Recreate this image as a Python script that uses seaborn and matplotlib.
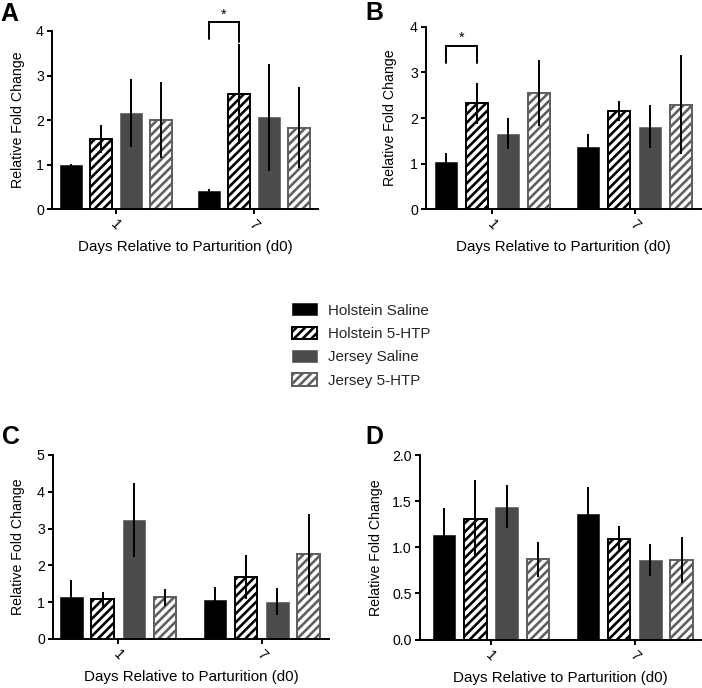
import numpy as np
import pandas as pd
import matplotlib
matplotlib.use("Agg")
import matplotlib.pyplot as plt
import seaborn as sns

# Data (mean and error per day, per group)
days = ["1", "7"]
groups = ["Holstein Saline", "Holstein 5-HTP", "Jersey Saline", "Jersey 5-HTP"]

a_mean = [[0.99, 1.58, 2.16, 2.01], [0.40, 2.59, 2.06, 1.83]]
a_err = [[0.03, 0.31, 0.76, 0.85], [0.05, 1.12, 1.21, 0.91]]
b_mean = [[1.04, 2.32, 1.66, 2.55], [1.36, 2.15, 1.81, 2.29]]
b_err = [[0.19, 0.45, 0.33, 0.72], [0.28, 0.22, 0.47, 1.08]]
c_mean = [[1.15, 1.08, 3.24, 1.13], [1.05, 1.68, 1.01, 2.30]]
c_err = [[0.45, 0.20, 1.00, 0.23], [0.37, 0.60, 0.37, 1.10]]
d_mean = [[1.13, 1.31, 1.44, 0.87], [1.36, 1.09, 0.86, 0.86]]
d_err = [[0.30, 0.42, 0.23, 0.19], [0.29, 0.14, 0.17, 0.25]]

sns.set_theme(style="ticks")
plt.rcParams['font.family'] = ['Liberation Sans', 'DejaVu Sans']
plt.rcParams['hatch.linewidth'] = 2.4

DPI = 78
W, H = 702, 688
fig = plt.figure(figsize=(W / DPI, H / DPI), dpi=DPI)

DARK = "#4b4b4b"
GREY_EDGE = "#5e5e5e"
styles = {
    "Holstein Saline": dict(face="black", edge="black", hatch=None),
    "Holstein 5-HTP": dict(face="white", edge="black", hatch="///"),
    "Jersey Saline": dict(face=DARK, edge=DARK, hatch=None),
    "Jersey 5-HTP": dict(face="white", edge=GREY_EDGE, hatch="///"),
}


def add_axes(left, top, width, height):
    return fig.add_axes([left / W, 1 - (top + height) / H, width / W, height / H])


def draw_panel(ax, means, errs, ylim, yticks, xlim, ylab_x):
    rows = []
    for i, d in enumerate(days):
        for j, g in enumerate(groups):
            rows.append({"day": d, "group": g, "value": means[i][j], "err": errs[i][j]})
    df = pd.DataFrame(rows)
    sns.barplot(data=df, x="day", y="value", hue="group", order=days, hue_order=groups,
                palette=[styles[g]["face"] for g in groups], saturation=1,
                errorbar=None, width=0.87, gap=0.28, legend=False, ax=ax)
    bars = list(ax.containers)
    for g, cont in zip(groups, bars):
        st = styles[g]
        for p in cont.patches:
            p.set_facecolor(st["face"])
            p.set_edgecolor(st["edge"])
            p.set_linewidth(1.8 if st["hatch"] else 0.5)
            if st["hatch"]:
                p.set_hatch(st["hatch"])
    # error bars at the bar centres
    for j, cont in enumerate(bars):
        for i, p in enumerate(cont.patches):
            xc = p.get_x() + p.get_width() / 2
            ax.errorbar(xc, means[i][j], yerr=errs[i][j], fmt="none",
                        ecolor="black", elinewidth=1.8, capsize=0, zorder=5)
    ax.set_ylim(*ylim)
    ax.set_yticks(yticks)
    ax.set_xlim(*xlim)
    sns.despine(ax=ax)
    for s in ["left", "bottom"]:
        ax.spines[s].set_linewidth(1.8)
        ax.spines[s].set_color("black")
    ax.tick_params(axis="both", direction="out", length=4.6, width=1.8,
                   labelsize=13, colors="black", pad=3)
    ax.tick_params(axis="x", labelrotation=-45)
    ax.set_xlabel("Days Relative to Parturition (d0)", fontsize=14, color="black")
    ax.set_ylabel("Relative Fold Change", fontsize=13, color="black")
    ax.xaxis.set_label_coords(0.5, -0.17)
    ax.yaxis.set_label_coords(ylab_x, 0.5)
    ax.grid(False)
    return bars


def bracket(ax, bars, j1, j2, day_i, y_legs, y_top, y_star):
    p1 = bars[j1].patches[day_i]
    p2 = bars[j2].patches[day_i]
    x1 = p1.get_x() + p1.get_width() / 2
    x2 = p2.get_x() + p2.get_width() / 2
    ax.plot([x1, x1, x2, x2], [y_legs[0], y_top, y_top, y_legs[1]],
            color="black", lw=1.8, clip_on=False, solid_joinstyle="miter")
    ax.text((x1 + x2) / 2, y_star, "*", ha="center", va="baseline",
            fontsize=13, color="black", clip_on=False)


ax_a = add_axes(52, 31, 266, 178.3)
bars_a = draw_panel(ax_a, a_mean, a_err, (0, 4), [0, 1, 2, 3, 4], (-0.464, 1.464), -0.10)
bracket(ax_a, bars_a, 0, 1, 1, (3.83, 3.76), 4.21, 4.28)

ax_b = add_axes(426, 26.7, 275, 182.6)
bars_b = draw_panel(ax_b, b_mean, b_err, (0, 4), [0, 1, 2, 3, 4], (-0.465, 1.465), -0.105)
bracket(ax_b, bars_b, 0, 1, 0, (3.2, 3.2), 3.58, 3.66)

ax_c = add_axes(53, 455, 276, 184)
draw_panel(ax_c, c_mean, c_err, (0, 5), [0, 1, 2, 3, 4, 5], (-0.455, 1.469), -0.10)

ax_d = add_axes(420, 455, 281, 184.5)
draw_panel(ax_d, d_mean, d_err, (0, 2), [0, 0.5, 1.0, 1.5, 2.0], (-0.493, 1.46), -0.13)
ax_d.yaxis.set_major_formatter(matplotlib.ticker.FormatStrFormatter("%.1f"))

# panel letters
for letter, x, y in [("A", 0, 21), ("B", 365, 20.5), ("C", 2, 444), ("D", 365, 444)]:
    fig.text(x / W, 1 - y / H, letter, ha="left", va="baseline",
             fontsize=23, fontweight="bold", color="black")

# shared legend in the middle
handles = [cont.patches[0] for cont in bars_a]
fig.legend(handles, groups, loc="center", bbox_to_anchor=(361 / W, 1 - 345.5 / H),
           frameon=False, fontsize=14, handlelength=1.65, handleheight=0.85,
           handletextpad=0.7, labelspacing=0.6, borderpad=0)

fig.savefig("out.png", dpi=DPI)
